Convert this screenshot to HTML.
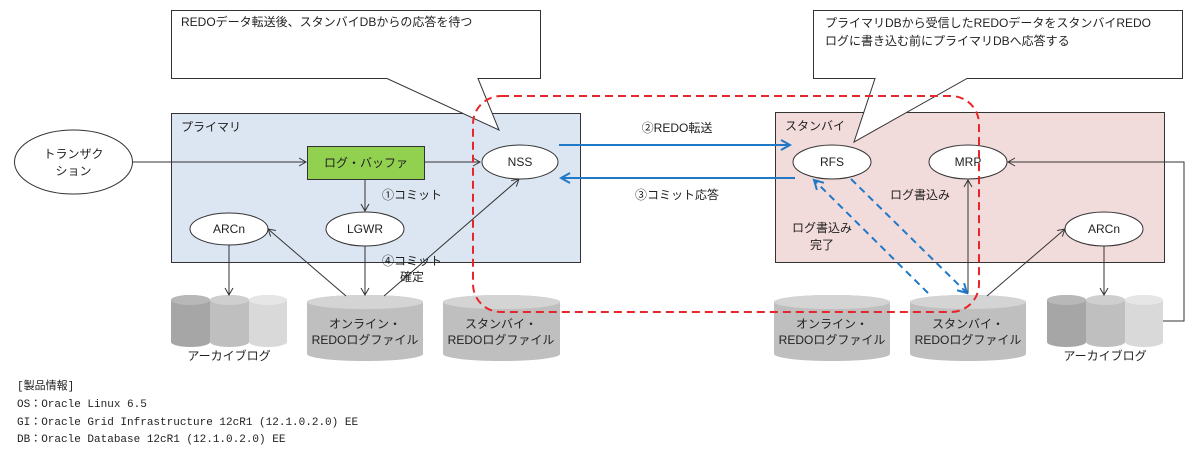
<!DOCTYPE html>
<html><head><meta charset="utf-8"><style>
body{margin:0;background:#fff;width:1200px;height:453px;overflow:hidden}
text{font-family:"Liberation Sans","Noto Sans CJK JP",sans-serif;font-size:12px;fill:#222}
.m{font-family:"Liberation Mono","Noto Sans CJK JP",monospace;font-size:11px}
</style></head><body>
<svg width="1200" height="453" xmlns="http://www.w3.org/2000/svg">
<defs>
<marker id="a" markerWidth="10" markerHeight="10" refX="8" refY="5" orient="auto" markerUnits="userSpaceOnUse"><path d="M1,1 L8,5 L1,9" fill="none" stroke="#333" stroke-width="1"/></marker>
<marker id="b" markerWidth="12" markerHeight="12" refX="10" refY="6" orient="auto" markerUnits="userSpaceOnUse"><path d="M1,1 L10,6 L1,11" fill="none" stroke="#1f78c8" stroke-width="2"/></marker>
</defs>
<rect x="171.5" y="113.5" width="409" height="149" fill="#dce6f2" stroke="#333"/>
<rect x="775.5" y="112.5" width="389" height="150" fill="#f2dcdb" stroke="#333"/>
<text x="181" y="131">プライマリ</text>
<text x="785" y="130">スタンバイ</text>
<path d="M171.5,10.5 H540.5 V78.5 H478 L499,130 L387,78.5 H171.5 Z" fill="#fff" stroke="#333"/>
<text x="181" y="26">REDOデータ転送後、スタンバイDBからの応答を待つ</text>
<path d="M813.5,10.5 H1182.5 V78.5 H967 L854,142 L875,78.5 H813.5 Z" fill="#fff" stroke="#333"/>
<text x="825" y="27">プライマリDBから受信したREDOデータをスタンバイREDO</text>
<text x="825" y="45">ログに書き込む前にプライマリDBへ応答する</text>
<ellipse cx="73.5" cy="162" rx="59" ry="32" fill="#fff" stroke="#333"/>
<text x="73.5" y="158" text-anchor="middle">トランザク</text>
<text x="73.5" y="175" text-anchor="middle">ション</text>
<rect x="307.5" y="146.5" width="117" height="33" fill="#92d050" stroke="#333"/>
<text x="366" y="167" text-anchor="middle">ログ・バッファ</text>
<ellipse cx="520" cy="162" rx="38" ry="17" fill="#fff" stroke="#333"/>
<text x="520" y="166" text-anchor="middle">NSS</text>
<ellipse cx="229" cy="229" rx="39" ry="16" fill="#fff" stroke="#333"/>
<text x="229" y="233" text-anchor="middle">ARCn</text>
<ellipse cx="365" cy="229" rx="39" ry="17" fill="#fff" stroke="#333"/>
<text x="365" y="233" text-anchor="middle">LGWR</text>
<ellipse cx="832" cy="162" rx="39" ry="17" fill="#fff" stroke="#333"/>
<text x="832" y="166" text-anchor="middle">RFS</text>
<ellipse cx="968" cy="162" rx="39" ry="17" fill="#fff" stroke="#333"/>
<text x="968" y="166" text-anchor="middle">MRP</text>
<ellipse cx="1104" cy="229" rx="39" ry="17" fill="#fff" stroke="#333"/>
<text x="1104" y="233" text-anchor="middle">ARCn</text>
<g>
<path d="M171,300 a19.5,5 0 0 1 39,0 V342 a19.5,5 0 0 1 -39,0 Z" fill="#a6a6a6"/>
<path d="M210,300 a19.5,5 0 0 1 39,0 V342 a19.5,5 0 0 1 -39,0 Z" fill="#bfbfbf"/>
<path d="M249,300 a19,5 0 0 1 38,0 V342 a19,5 0 0 1 -38,0 Z" fill="#d9d9d9"/>
<ellipse cx="190.5" cy="300" rx="19.5" ry="5" fill="#b8b8b8"/>
<ellipse cx="229.5" cy="300" rx="19.5" ry="5" fill="#cfcfcf"/>
<ellipse cx="268" cy="300" rx="19" ry="5" fill="#e6e6e6"/>
<text x="229" y="360" text-anchor="middle" font-size="13">アーカイブログ</text>
</g>
<g>
<path d="M1047,300 a19.5,5 0 0 1 39,0 V342 a19.5,5 0 0 1 -39,0 Z" fill="#a6a6a6"/>
<path d="M1086,300 a19.5,5 0 0 1 39,0 V342 a19.5,5 0 0 1 -39,0 Z" fill="#bfbfbf"/>
<path d="M1125,300 a19,5 0 0 1 38,0 V342 a19,5 0 0 1 -38,0 Z" fill="#d9d9d9"/>
<ellipse cx="1066.5" cy="300" rx="19.5" ry="5" fill="#b8b8b8"/>
<ellipse cx="1105.5" cy="300" rx="19.5" ry="5" fill="#cfcfcf"/>
<ellipse cx="1144" cy="300" rx="19" ry="5" fill="#e6e6e6"/>
<text x="1105" y="360" text-anchor="middle" font-size="13">アーカイブログ</text>
</g>
<g fill="#bfbfbf">
<path d="M307,302 a58,7 0 0 1 116,0 V354 a58,7 0 0 1 -116,0 Z"/><ellipse cx="365" cy="302" rx="58" ry="7" fill="#d4d4d4"/>
<path d="M443,302 a58.5,7 0 0 1 117,0 V354 a58.5,7 0 0 1 -117,0 Z"/><ellipse cx="501.5" cy="302" rx="58.5" ry="7" fill="#d4d4d4"/>
<path d="M774,302 a58,7 0 0 1 116,0 V354 a58,7 0 0 1 -116,0 Z"/><ellipse cx="832" cy="302" rx="58" ry="7" fill="#d4d4d4"/>
<path d="M910,302 a58,7 0 0 1 116,0 V354 a58,7 0 0 1 -116,0 Z"/><ellipse cx="968" cy="302" rx="58" ry="7" fill="#d4d4d4"/>
</g>
<text x="365" y="328" text-anchor="middle">オンライン・</text><text x="365" y="344" text-anchor="middle">REDOログファイル</text>
<text x="501" y="328" text-anchor="middle">スタンバイ・</text><text x="501" y="344" text-anchor="middle">REDOログファイル</text>
<text x="832" y="328" text-anchor="middle">オンライン・</text><text x="832" y="344" text-anchor="middle">REDOログファイル</text>
<text x="968" y="328" text-anchor="middle">スタンバイ・</text><text x="968" y="344" text-anchor="middle">REDOログファイル</text>
<g stroke="#333" stroke-width="1" fill="none" marker-end="url(#a)">
<line x1="132" y1="162" x2="306" y2="162"/>
<line x1="424" y1="162" x2="480" y2="162"/>
<line x1="365" y1="179" x2="365" y2="211"/>
<line x1="365" y1="246" x2="365" y2="295"/>
<line x1="229" y1="245" x2="229" y2="295"/>
<line x1="346" y1="296" x2="268" y2="229"/>
<line x1="384" y1="296" x2="519" y2="179"/>
<line x1="968" y1="293" x2="968" y2="180"/>
<line x1="987" y1="296" x2="1065" y2="229"/>
<line x1="1104" y1="246" x2="1104" y2="295"/>
<polyline points="1163,321 1184,321 1184,162 1008,162"/>
</g>
<g stroke="#1f78c8" stroke-width="2" fill="none" marker-end="url(#b)">
<line x1="559" y1="145" x2="790" y2="145"/>
<line x1="795" y1="178" x2="561" y2="178"/>
<line x1="851" y1="179" x2="967" y2="293" stroke-dasharray="7,5"/>
<line x1="928" y1="293" x2="814" y2="180" stroke-dasharray="7,5"/>
</g>
<rect x="473" y="96" width="506" height="216" rx="28" fill="none" stroke="#e8262a" stroke-width="2" stroke-dasharray="8,5"/>
<text x="677" y="132" text-anchor="middle">②REDO転送</text>
<text x="677" y="199" text-anchor="middle">③コミット応答</text>
<text x="412" y="199" text-anchor="middle">①コミット</text>
<text x="412" y="265" text-anchor="middle">④コミット</text>
<text x="412" y="281" text-anchor="middle">確定</text>
<text x="920" y="199" text-anchor="middle">ログ書込み</text>
<text x="822" y="232" text-anchor="middle">ログ書込み</text>
<text x="822" y="249" text-anchor="middle">完了</text>
<text class="m" x="17" y="389">[製品情報]</text>
<text class="m" x="17" y="407">OS：Oracle Linux 6.5</text>
<text class="m" x="17" y="425">GI：Oracle Grid Infrastructure 12cR1 (12.1.0.2.0) EE</text>
<text class="m" x="17" y="442">DB：Oracle Database 12cR1 (12.1.0.2.0) EE</text>
</svg>
</body></html>
